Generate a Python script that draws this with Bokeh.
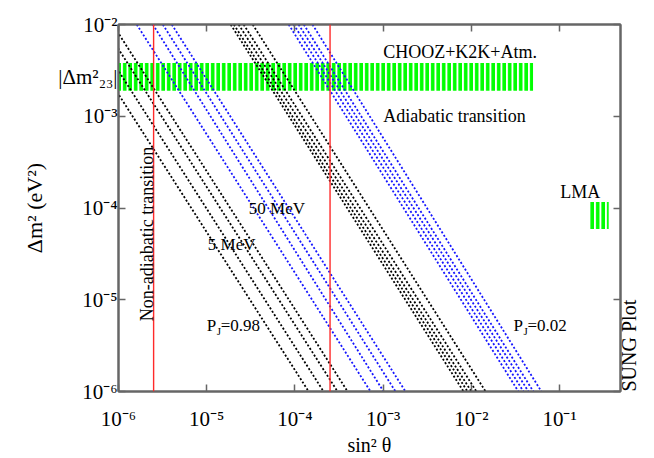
import math
from bokeh.plotting import figure
from bokeh.models import LogAxis, FixedTicker, Label, Span, Range1d, ColumnDataSource
from bokeh.embed import file_html
from bokeh.resources import INLINE

# ---------------- data ----------------
x_ticks = [1e-6, 1e-5, 1e-4, 1e-3, 1e-2, 1e-1]
x_tick_labels = ["10⁻⁶", "10⁻⁵", "10⁻⁴", "10⁻³", "10⁻²", "10⁻¹"]
y_ticks = [1e-6, 1e-5, 1e-4, 1e-3, 1e-2]
y_tick_labels = ["10⁻⁶", "10⁻⁵", "10⁻⁴", "10⁻³", "10⁻²"]

# iso-P_J lines: sin^2(theta) where each line crosses dm2 = 1e-2 (top) and dm2 = 1e-6 (bottom)
dm2_top = 1e-2
dm2_bottom = 1e-6
black_098_top = [3.12e-7, 4.61e-7, 6.64e-7, 8.62e-7]      # 5 MeV, P_J = 0.98
black_098_bot = [1.43e-4, 2.11e-4, 3.04e-4, 3.95e-4]
blue_098_top = [1.61e-6, 2.45e-6, 3.18e-6, 4.02e-6]       # 50 MeV, P_J = 0.98
blue_098_bot = [7.19e-4, 1.01e-3, 1.38e-3, 1.79e-3]
black_002_top = [1.87e-5, 2.03e-5, 2.30e-5, 2.62e-5, 3.32e-5]   # 5 MeV, P_J = 0.02
black_002_bot = [8.15e-3, 9.04e-3, 1.00e-2, 1.14e-2, 1.45e-2]
blue_002_top = [8.49e-5, 9.68e-5, 1.10e-4, 1.26e-4, 1.58e-4]    # 50 MeV, P_J = 0.02
blue_002_bot = [0.0341, 0.0389, 0.0443, 0.0504, 0.0622]

transition_sin2 = [2.5e-6, 2.5e-4]

atm_sin2 = [1e-6, 0.05]
atm_dm2 = [1.9e-3, 3.8e-3]
atm_label = "|Δm²₂₃|"
lma_sin2 = [0.22, 0.36]
lma_dm2 = [5.9e-5, 1.16e-4]

x_limits = [1e-6, 0.49]
y_limits = [1e-6, 1e-2]

SERIF = "Liberation Serif"
FRAME = "#666666"

# ---------------- figure ----------------
p = figure(width=654, height=458, x_axis_type="log", y_axis_type="log",
           x_range=Range1d(*x_limits), y_range=Range1d(*y_limits),
           output_backend="svg", toolbar_location=None,
           min_border_left=118, min_border_right=34, min_border_top=24, min_border_bottom=60)
p.grid.visible = False
p.background_fill_color = "white"
p.border_fill_color = "white"
p.outline_line_color = FRAME
p.outline_line_width = 2

def style_axis(ax, labels=True, ticks=True):
    ax.axis_line_color = FRAME if ticks else None
    ax.axis_line_width = 2
    ax.major_tick_line_color = FRAME if ticks else None
    ax.major_tick_line_width = 1.5
    ax.major_tick_in = 7
    ax.major_tick_out = 0
    ax.minor_tick_line_color = None
    ax.major_label_text_font = SERIF
    ax.major_label_text_color = "black"
    if labels:
        ax.major_label_text_font_size = "21px"
    else:
        ax.major_label_text_font_size = "2px"
        ax.major_label_text_alpha = 0
        ax.major_label_standoff = 0
    ax.axis_label_text_font = SERIF
    ax.axis_label_text_font_style = "normal"
    ax.axis_label_text_font_size = "20px"
    ax.axis_label_text_color = "black"

# bottom axis
xax = p.xaxis[0]
xax.ticker = FixedTicker(ticks=x_ticks)
xax.major_label_overrides = dict(zip(x_ticks, x_tick_labels))
style_axis(xax)
xax.axis_label = "sin² θ"
xax.major_label_standoff = 15
xax.axis_label_standoff = 0

# left: inner tick-only axis + outer label axis (tick labels and |Δm²23| label)
yax = p.yaxis[0]
atm_label_y = math.sqrt(atm_dm2[0] * atm_dm2[1])
yax.ticker = FixedTicker(ticks=y_ticks + [atm_label_y])
overrides = dict(zip(y_ticks, y_tick_labels))
overrides[atm_label_y] = atm_label
yax.major_label_overrides = overrides
style_axis(yax, ticks=False)
yax.axis_label = "Δm² (eV²)"
yax.axis_label_text_font_size = "22px"
yax.major_label_standoff = 1
yax.axis_label_standoff = 8

left_ticks = LogAxis(ticker=FixedTicker(ticks=y_ticks))
style_axis(left_ticks, labels=False)
p.left = [left_ticks, yax]

# top mirror ticks
top_ax = LogAxis(ticker=FixedTicker(ticks=x_ticks))
style_axis(top_ax, labels=False)
p.add_layout(top_ax, "above")

# right: mirror ticks, with the "SUNG Plot" tag as the label of the bottom tick
right_ax = LogAxis(ticker=FixedTicker(ticks=y_ticks))
style_axis(right_ax)
right_overrides = {t: "" for t in y_ticks}
right_overrides[y_ticks[0]] = "SUNG Plot"
right_ax.major_label_overrides = right_overrides
right_ax.major_label_orientation = math.pi / 2
right_ax.major_label_text_font_size = "20px"
right_ax.major_label_standoff = 8
p.right = [right_ax]

# ---------------- bands ----------------
GREEN = "#00ff00"
p.quad(left=[atm_sin2[0]], right=[atm_sin2[1]], bottom=[atm_dm2[0]], top=[atm_dm2[1]],
       fill_color=None, line_color=None, hatch_pattern="vertical_line",
       hatch_color=GREEN, hatch_scale=5.5, hatch_weight=3.7)
p.quad(left=[lma_sin2[0]], right=[lma_sin2[1]], bottom=[lma_dm2[0]], top=[lma_dm2[1]],
       fill_color=None, line_color=None, hatch_pattern="vertical_line",
       hatch_color=GREEN, hatch_scale=5.5, hatch_weight=3.7)

# ---------------- iso lines ----------------
def draw_group(tops, bots, color):
    src = ColumnDataSource(dict(x0=tops, y0=[dm2_top] * len(tops),
                                x1=bots, y1=[dm2_bottom] * len(bots)))
    p.segment(x0="x0", y0="y0", x1="x1", y1="y1", source=src,
              line_color=color, line_width=1.8, line_dash="2 2")

draw_group(black_098_top, black_098_bot, "black")
draw_group(blue_098_top, blue_098_bot, "#1515ff")
draw_group(black_002_top, black_002_bot, "black")
draw_group(blue_002_top, blue_002_bot, "#1515ff")

for xs in transition_sin2:
    p.add_layout(Span(location=xs, dimension="height", line_color="#ff2a2a", line_width=1.4))

# ---------------- text ----------------
def lab(x, y, text, size="17px", align="left", angle=0.0, xo=0, yo=0):
    p.add_layout(Label(x=x, y=y, text=text, text_font=SERIF, text_font_size=size,
                       text_align=align, text_baseline="middle", angle=angle,
                       x_offset=xo, y_offset=yo, text_color="black"))

lab(1e-3, 5.0e-3, "CHOOZ+K2K+Atm.", size="18px")
lab(1e-3, 1.0e-3, "Adiabatic transition", size="18px")
lab(0.102, 1.5e-4, "LMA", size="18px")
lab(3.0e-5, 1.0e-4, "50 MeV")
lab(1.03e-5, 4.0e-5, "5 MeV")
lab(2.09e-6, 5.2e-5, "Non-adiabatic transition", size="18px", align="center", angle=math.pi / 2)

for xp, val in [(1.0e-5, "=0.98"), (0.03, "=0.02")]:
    lab(xp, 5.2e-6, "P")
    lab(xp, 5.2e-6, "J", size="11px", xo=10, yo=-5)
    lab(xp, 5.2e-6, val, xo=14)

open("out.html", "w").write(file_html(p, INLINE))
